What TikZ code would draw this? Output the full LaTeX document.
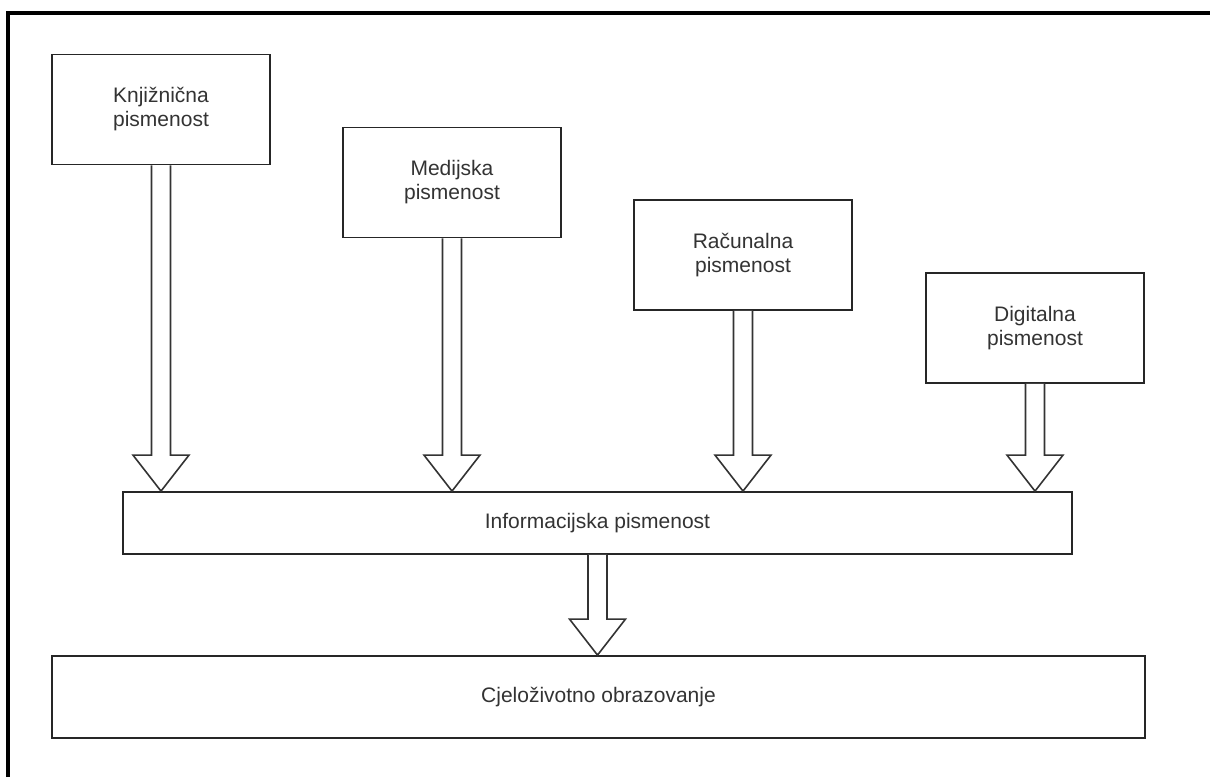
\documentclass[tikz,border=0pt]{standalone}
\usepackage{fontspec}
\setmainfont{Liberation Sans}
\usetikzlibrary{calc}
\tikzset{
  box/.style={draw=black!85, line width=0.9pt, fill=white, rectangle, inner sep=0pt,
    align=center, text=black!80, font=\fontsize{10.5pt}{12pt}\selectfont},
  smallbox/.style={box, minimum width=109pt, minimum height=55pt},
  barrow/.style={draw=black!80, line width=0.8pt, fill=white, line join=miter},
  frame/.style={draw=black, line width=1.6pt}
}
\newcommand{\blockarr}[2]{%
  \path (#1.south) coordinate (bs) (#1.south |- #2.north) coordinate (bt);
  \draw[barrow] ($(bs)+(-9.5,0)$) -- ($(bt)+(-9.5,-36)$) -- ($(bt)+(-28,-36)$) -- (bt)
    -- ($(bt)+(28,-36)$) -- ($(bt)+(9.5,-36)$) -- ($(bs)+(9.5,0)$);
}
\begin{document}
\begin{tikzpicture}[x=0.5pt, y=-0.5pt]
\useasboundingbox (0,0) rectangle (1210,777);
\fill[white] (0,0) rectangle (1210,777);
\coordinate (fa) at (8,777);
\coordinate (fb) at (8,13);
\coordinate (fc) at (1210,13);
\draw[frame] (fa) -- (fb) -- (fc);

\node[smallbox] (k) at (161,109.5) {Knjižnična\\pismenost};
\node[smallbox] (m) at (452,182.5) {Medijska\\pismenost};
\node[smallbox] (r) at (743,255) {Računalna\\pismenost};
\node[smallbox] (d) at (1035,328) {Digitalna\\pismenost};
\node[box, minimum width=474.5pt, minimum height=31pt] (info) at (597.5,523) {Informacijska pismenost};
\node[box, minimum width=546.5pt, minimum height=41pt] (cj) at (598.5,697) {Cjeloživotno obrazovanje};

\blockarr{k}{info}
\blockarr{m}{info}
\blockarr{r}{info}
\blockarr{d}{info}
\blockarr{info}{cj}
\end{tikzpicture}
\end{document}
